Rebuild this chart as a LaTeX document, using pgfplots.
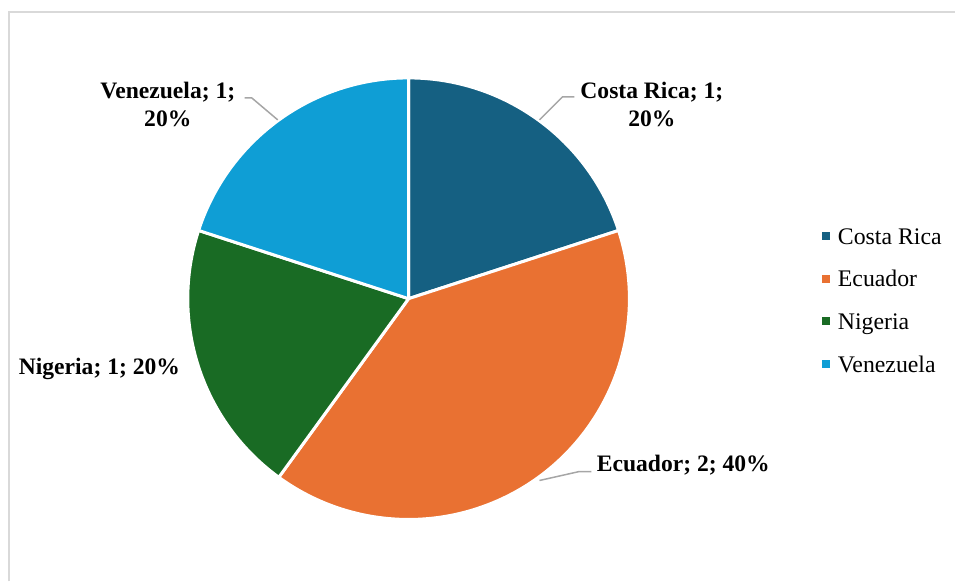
\documentclass[border=0pt]{standalone}
\usepackage{pgfplots}
\pgfplotsset{compat=1.18}
\usepackage{pgfplotstable}
\usepackage{fontspec}
\setmainfont{Liberation Serif}
\definecolor{pie0}{HTML}{156082}
\definecolor{pie1}{HTML}{E97132}
\definecolor{pie2}{HTML}{196B24}
\definecolor{pie3}{HTML}{0F9ED5}
\definecolor{framegray}{HTML}{D9D9D9}
\definecolor{leadergray}{HTML}{A6A6A6}
\newcommand\lblfont{\fontsize{11.8pt}{14pt}\selectfont\bfseries}
\newcommand\legfont{\fontsize{11.9pt}{14pt}\selectfont}

\pgfplotstableread{
country value
{Costa Rica} 1
Ecuador 2
Nigeria 1
Venezuela 1
}\piedata

\begin{document}
\begin{tikzpicture}
\begin{axis}[
  scale only axis, width=478pt, height=291pt,
  xmin=0, xmax=956, ymin=0, ymax=582,
  hide axis, clip=false,
  legend cell align=left,
  legend style={draw=none, fill=none, inner sep=0pt, outer sep=0pt,
    font=\legfont, at={(axis cs:823,279.5)}, anchor=west,
    row sep=10.3pt,
    nodes={inner sep=0pt, text height=8.5pt, text depth=2.5pt}},
]
\path (axis cs:0,0) rectangle (axis cs:956,582);
% frame
\draw[framegray, line width=1pt] (axis cs:9,0) -- (axis cs:9,570) -- (axis cs:956,570);
% pie
\pgfplotsextra{%
  \def\total{0}%
  \pgfplotsforeachungrouped \i in {0,...,3}{%
    \pgfplotstablegetelem{\i}{value}\of\piedata
    \pgfmathsetmacro\total{\total+\pgfplotsretval}%
  }%
  \def\cum{0}%
  \pgfplotsforeachungrouped \i in {0,...,3}{%
    \pgfplotstablegetelem{\i}{value}\of\piedata
    \pgfmathsetmacro\sa{90-360*\cum/\total}%
    \pgfmathsetmacro\ea{\sa-360*\pgfplotsretval/\total}%
    \pgfmathsetmacro\cum{\cum+\pgfplotsretval}%
    \fill[fill=pie\i, draw=white, line width=1.5pt, line join=round]
      (axis cs:409,283) -- +(\sa:110.5pt) arc[start angle=\sa, end angle=\ea, radius=110.5pt] -- cycle;
  }%
}
% leader lines
\draw[leadergray, line width=0.75pt] (axis cs:540,462) -- (axis cs:563,485) -- (axis cs:575,485);
\draw[leadergray, line width=0.75pt] (axis cs:278,462) -- (axis cs:252,484) -- (axis cs:245,484);
\draw[leadergray, line width=0.75pt] (axis cs:540,101) -- (axis cs:580,110) -- (axis cs:592,110);
% data labels
\node[align=center, font=\lblfont] at (axis cs:652.5,477) {Costa Rica; 1;\\20\%};
\node[align=center, font=\lblfont] at (axis cs:168,477) {Venezuela; 1;\\20\%};
\node[font=\lblfont] at (axis cs:99.5,213) {Nigeria; 1; 20\%};
\node[font=\lblfont] at (axis cs:684,116) {Ecuador; 2; 40\%};
% legend
\addlegendimage{legend image code/.code={\fill[pie0] (0pt,-0.5pt) rectangle (3.5pt,3pt); \path (7.5pt,0pt);}}
\addlegendentry{Costa Rica}
\addlegendimage{legend image code/.code={\fill[pie1] (0pt,-0.5pt) rectangle (3.5pt,3pt); \path (7.5pt,0pt);}}
\addlegendentry{Ecuador}
\addlegendimage{legend image code/.code={\fill[pie2] (0pt,-0.5pt) rectangle (3.5pt,3pt); \path (7.5pt,0pt);}}
\addlegendentry{Nigeria}
\addlegendimage{legend image code/.code={\fill[pie3] (0pt,-0.5pt) rectangle (3.5pt,3pt); \path (7.5pt,0pt);}}
\addlegendentry{Venezuela}
\end{axis}
\end{tikzpicture}
\end{document}
